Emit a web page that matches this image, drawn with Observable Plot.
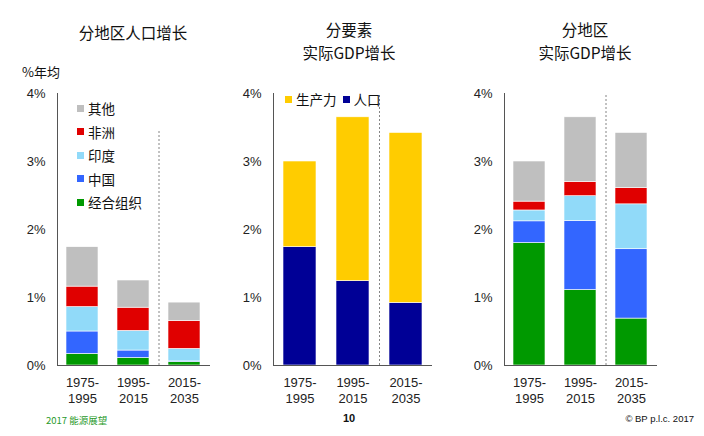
<!DOCTYPE html>
<html><head><meta charset="utf-8">
<script src="https://cdn.jsdelivr.net/npm/d3@7"></script>
<script src="https://cdn.jsdelivr.net/npm/@observablehq/plot@0.6"></script>
<style>
body{margin:0;background:#fff;}
#root{position:relative;width:704px;height:436px;overflow:hidden;font-family:"Liberation Sans",Arial,sans-serif;color:#111;}
.abs{position:absolute;white-space:nowrap;}
.title{font-family:"Noto Sans CJK SC",sans-serif;font-size:15.5px;line-height:18px;text-align:center;transform:translateX(-50%);}
.leg{font-family:"Noto Sans CJK SC",sans-serif;font-size:13.5px;line-height:16px;display:flex;align-items:center;}
.sw{display:inline-block;width:7px;height:7px;margin-right:4px;}
.panel{position:absolute;top:80px;}
</style></head>
<body><div id="root"></div>
<script>
// ---- data ----
const periods = ["1975-1995", "1995-2015", "2015-2035"];
const regions = ["经合组织", "中国", "印度", "非洲", "其他"]; // bottom to top
const regionColors = ["#009900", "#3366ff", "#91daf9", "#e00000", "#bfbfbf"];
// Population growth by region (% p.a. contribution)
const popOECD   = [0.17, 0.11, 0.05];
const popChina  = [0.33, 0.11, 0.01];
const popIndia  = [0.36, 0.29, 0.185];
const popAfrica = [0.30, 0.34, 0.41];
const popOther  = [0.58, 0.40, 0.27];
// Real GDP growth by factor
const factors = ["人口", "生产力"]; // bottom to top
const factorColors = ["#000096", "#ffcc00"];
const gdpPopulation   = [1.74, 1.24, 0.92];
const gdpProductivity = [1.26, 2.41, 2.50];
// Real GDP growth by region
const gdpOECD   = [1.80, 1.11, 0.69];
const gdpChina  = [0.32, 1.015, 1.02];
const gdpIndia  = [0.16, 0.365, 0.66];
const gdpAfrica = [0.13, 0.21, 0.24];
const gdpOther  = [0.59, 0.95, 0.81];
const yTicks = [0, 1, 2, 3, 4];

function toRows(names, arrays) {
  const rows = [];
  names.forEach((n, k) => arrays[k].forEach((v, i) => rows.push({period: periods[i], series: n, value: v})));
  return rows;
}
const popRows = toRows(regions, [popOECD, popChina, popIndia, popAfrica, popOther]);
const factorRows = toRows(factors, [gdpPopulation, gdpProductivity]);
const gdpRows = toRows(regions, [gdpOECD, gdpChina, gdpIndia, gdpAfrica, gdpOther]);

const root = document.getElementById("root");
function addDiv(cls, html, css) {
  const d = document.createElement("div");
  d.className = cls; d.innerHTML = html; Object.assign(d.style, css);
  root.appendChild(d); return d;
}

function panel({left, width, marginLeft, marginRight, rows, order, colors, dividerTop}) {
  const pi = 0.37, po = 0.185;
  const inner = width - marginLeft - marginRight;
  const step = inner / (periods.length - pi + 2 * po);
  const chart = Plot.plot({
    width, height: 330, marginTop: 13, marginBottom: 45, marginLeft, marginRight,
    style: {fontFamily: "'Liberation Sans', Arial, sans-serif", fontSize: "13px", color: "#222", background: "transparent"},
    x: {domain: periods, paddingInner: pi, paddingOuter: po, axis: null},
    y: {domain: [0, 4], axis: null},
    color: {domain: order, range: colors},
    marks: [
      Plot.barY(rows, {x: "period", y: "value", fill: "series", order, stroke: "white", strokeWidth: 0.6}),
      Plot.ruleX([periods[2]], {x: d => d, dx: -step / 2, y1: 0, y2: dividerTop, stroke: "#666", strokeWidth: 0.8, strokeDasharray: "2,2"}),
      Plot.ruleY([0], {stroke: "#555", strokeWidth: 1}),
      Plot.frame({anchor: "left", stroke: "#555", strokeWidth: 1}),
      Plot.axisY({ticks: yTicks, tickFormat: d => d + "%", tickSize: 0, tickPadding: 12, fontSize: 13, label: null}),
      Plot.text(periods, {x: d => d, frameAnchor: "bottom", lineAnchor: "top", dy: 11, lineHeight: 1.17, text: d => d.replace("-", "-\n"), fontSize: 13, fill: "#222"})
    ]
  });
  chart.classList.add("panel");
  chart.style.left = left + "px";
  root.appendChild(chart);
}

panel({left: 0, width: 230, marginLeft: 57, marginRight: 20, rows: popRows, order: regions, colors: regionColors, dividerTop: 3.47});
panel({left: 230, width: 230, marginLeft: 43, marginRight: 28, rows: factorRows, order: factors, colors: factorColors, dividerTop: 4});
panel({left: 460, width: 244, marginLeft: 44, marginRight: 47, rows: gdpRows, order: regions, colors: regionColors, dividerTop: 4});

// titles
addDiv("abs title", "分地区人口增长", {left: "133px", top: "23px"});
addDiv("abs title", "分要素", {left: "349px", top: "20px"});
addDiv("abs title", "实际GDP增长", {left: "349px", top: "43px"});
addDiv("abs title", "分地区", {left: "585px", top: "20px"});
addDiv("abs title", "实际GDP增长", {left: "585px", top: "43px"});
addDiv("abs", "%年均", {left: "22px", top: "62px", fontFamily: "Noto Sans CJK SC, sans-serif", fontSize: "13px"});

// legend panel 1 (top to bottom = reverse stacking order)
const legTops = [100, 123.5, 147, 170.5, 194];
regions.slice().reverse().forEach((r, i) => {
  const c = regionColors[regions.length - 1 - i];
  addDiv("abs leg", `<span class="sw" style="background:${c}"></span>${r}`, {left: "77px", top: legTops[i] + "px"});
});
// legend panel 2 (horizontal)
addDiv("abs leg", factors.slice().reverse().map((f, i) => {
  const c = factorColors[factors.length - 1 - i];
  return `<span class="sw" style="background:${c};margin-left:${i ? 6 : 0}px"></span>${f}`;
}).join(""), {left: "285px", top: "91px"});

// footer
addDiv("abs", "2017 能源展望", {left: "46px", top: "413px", fontSize: "9.5px", color: "#2a9a2a", fontFamily: "Noto Sans CJK SC, sans-serif"});
addDiv("abs", "10", {left: "343px", top: "412px", fontSize: "11px", fontWeight: "bold"});
addDiv("abs", "© BP p.l.c. 2017", {right: "10px", top: "413px", fontSize: "9.5px"});
</script></body></html>
